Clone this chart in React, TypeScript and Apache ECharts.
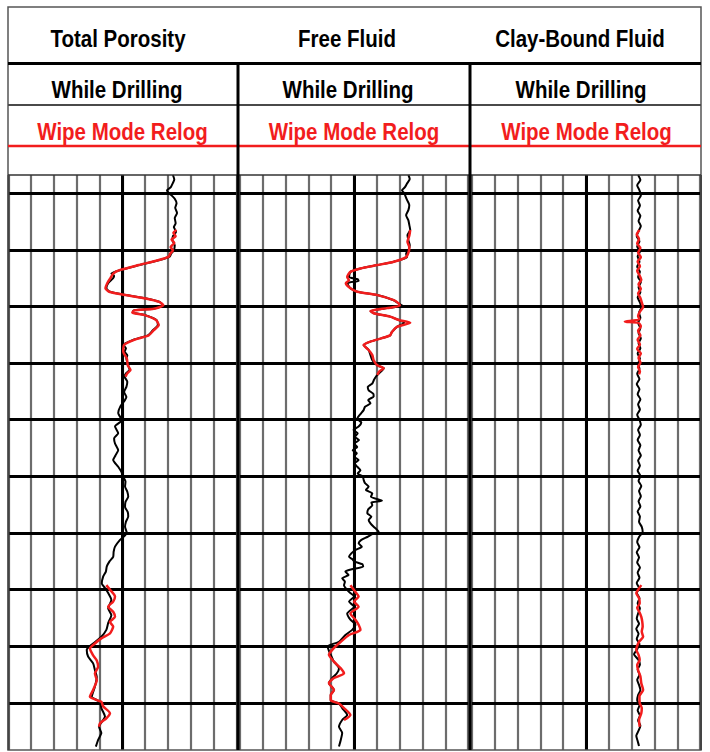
import React, { useEffect, useRef } from "react";
import * as echarts from "echarts";

// ---------- data (depth, porosity units; scale 50 p.u. left -> 0 p.u. right) ----------
const TRACK_TITLES = ["Total Porosity", "Free Fluid", "Clay-Bound Fluid"];
const RUN_DRILLING = "While Drilling";
const RUN_RELOG = "Wipe Mode Relog";

const DEPTH_MIN = 96.8;
const DEPTH_MAX = 198.3;
const DEPTH_LINES = [100, 110, 120, 130, 140, 150, 160, 170, 180, 190];
const PU_LEFT = 50;
const PU_RIGHT = 0;
const PU_STEP = 5;
const PU_CENTER = 25;

type P = [number, number]; // [depth, value]

const tpDrilling: P[] = [[96.8,13.9],[97.6,13.6],[98.2,13.9],[99.0,14.4],[99.5,15.2],[100.0,14.8],[100.4,14.2],[101.0,13.5],[101.8,13.1],[102.6,13.4],[103.5,13.0],[104.4,13.5],[105.3,13.3],[106.0,13.7],[106.8,13.2],[107.6,13.9],[108.3,14.0],[109.2,13.5],[110.1,13.7],[110.7,14.3],[111.2,14.6],[111.8,16.8],[112.7,21.2],[113.6,25.5],[114.2,27.4],[114.6,26.8],[115.0,27.0],[115.9,28.1],[116.8,28.5],[117.4,27.7],[118.0,24.1],[118.6,19.7],[119.2,16.8],[119.8,16.1],[120.4,18.3],[120.7,22.6],[121.1,22.6],[121.5,20.1],[122.4,17.5],[123.3,17.2],[124.2,18.3],[125.1,19.4],[125.9,22.6],[126.8,24.8],[127.4,24.2],[128.0,24.5],[128.6,23.9],[129.2,24.1],[130.4,23.7],[131.2,23.4],[131.8,24.2],[132.4,24.5],[133.3,23.9],[134.2,24.1],[135.1,24.6],[136.0,24.1],[136.5,24.4],[137.6,25.4],[138.8,25.9],[140.1,25.1],[141.2,26.6],[142.4,25.9],[143.3,26.8],[144.2,26.6],[145.4,25.9],[146.3,26.5],[147.1,27.0],[148.3,25.9],[149.2,25.2],[150.1,24.8],[150.9,24.3],[151.8,24.4],[152.7,23.9],[153.6,23.7],[154.5,24.3],[155.4,24.4],[156.3,23.8],[157.1,23.7],[158.0,24.2],[158.9,24.4],[160.0,24.0],[161.2,25.5],[162.4,26.6],[163.3,26.9],[164.2,27.0],[165.0,27.8],[165.9,28.4],[166.8,28.6],[167.7,29.2],[168.9,29.5],[169.7,28.8],[170.6,28.1],[171.8,27.4],[173.3,28.1],[174.5,27.4],[175.9,28.1],[177.1,28.5],[178.3,29.6],[179.5,31.4],[180.6,32.8],[181.8,32.5],[183.0,31.4],[184.2,31.0],[185.4,30.6],[187.1,31.0],[188.9,31.7],[189.8,29.9],[190.9,29.6],[192.4,28.8],[194.2,30.1],[195.3,29.6],[196.5,30.3],[197.7,30.8]];

const tpRelogUpper: P[] = [[106.5,13.1],[107.0,13.8],[107.6,13.3],[108.2,14.2],[108.8,13.6],[109.5,14.4],[110.1,13.9],[110.7,14.5],[111.2,14.8],[111.8,17.0],[112.7,21.4],[113.6,25.6],[114.2,27.0],[115.0,27.6],[115.9,28.3],[116.8,28.7],[117.4,27.9],[118.0,24.3],[118.6,19.9],[119.2,16.9],[119.8,16.0],[120.4,18.1],[120.7,22.4],[121.1,22.8],[121.5,20.3],[122.4,17.6],[123.3,17.0],[124.2,18.1],[125.1,19.2],[125.9,22.4],[126.8,24.6],[128.0,24.8],[129.2,24.0],[130.4,23.8],[131.2,23.2],[131.8,23.9],[132.4,24.3]];

const tpRelogLower: P[] = [[169.2,28.5],[170.0,27.7],[171.2,26.6],[172.1,27.0],[173.0,28.1],[173.9,27.0],[174.8,26.6],[175.7,27.7],[176.5,27.0],[177.7,27.7],[178.6,29.6],[179.5,31.0],[180.4,32.1],[181.6,31.4],[182.5,30.6],[183.6,30.3],[184.8,31.0],[186.0,30.6],[187.7,31.4],[188.9,32.1],[189.8,29.6],[190.6,29.2],[191.8,27.7],[192.7,28.5],[193.6,29.9],[194.2,30.1]];

const ffDrilling: P[] = [[96.8,13.1],[97.5,12.8],[98.3,13.4],[99.0,13.9],[99.5,14.5],[100.0,14.0],[100.4,13.8],[101.2,13.4],[102.1,12.9],[103.0,13.1],[103.9,13.6],[104.8,13.1],[105.6,12.9],[106.5,12.7],[107.4,13.3],[108.3,13.1],[109.2,12.8],[110.1,13.1],[110.7,13.6],[111.3,13.4],[112.1,16.3],[112.7,19.9],[113.3,23.6],[113.9,25.8],[114.8,26.1],[115.2,24.2],[115.5,24.0],[115.9,26.5],[116.8,25.8],[117.4,24.3],[118.0,19.9],[118.9,16.3],[119.5,15.2],[119.9,14.3],[120.3,17.8],[120.8,21.4],[121.2,20.7],[121.8,17.1],[122.4,15.2],[122.9,14.0],[123.6,15.6],[124.5,16.7],[125.1,17.1],[125.6,18.9],[126.2,21.4],[126.8,22.9],[127.7,21.8],[128.6,21.4],[129.5,21.0],[130.4,19.9],[130.9,18.5],[132.1,19.9],[132.9,20.6],[133.6,21.0],[134.2,22.0],[134.8,21.8],[135.4,20.8],[135.9,20.7],[136.5,21.9],[137.1,21.4],[137.7,22.6],[138.3,22.9],[139.0,23.6],[139.8,24.3],[140.5,23.4],[141.2,24.0],[141.8,25.1],[142.4,24.2],[143.0,24.8],[143.6,23.9],[144.2,25.0],[144.8,24.3],[145.4,25.3],[145.9,24.4],[146.5,25.0],[147.1,24.0],[147.7,24.9],[148.3,24.3],[148.9,23.6],[149.5,24.2],[150.0,23.1],[150.6,22.9],[151.2,22.6],[151.8,21.8],[152.4,22.4],[153.0,21.0],[153.6,21.3],[154.3,18.9],[154.6,21.2],[155.1,21.0],[155.8,21.9],[156.5,22.1],[157.1,21.2],[157.7,21.8],[158.3,21.4],[158.9,20.7],[159.4,20.0],[159.8,19.6],[160.2,21.0],[160.7,22.1],[161.2,23.4],[161.8,24.0],[162.4,23.3],[163.0,24.7],[163.6,25.6],[164.2,26.1],[164.6,25.4],[165.0,25.0],[165.5,23.2],[165.9,23.0],[166.4,25.5],[166.8,26.9],[167.4,26.2],[168.0,27.6],[168.6,27.0],[169.2,27.2],[170.4,26.1],[171.2,25.0],[172.1,26.1],[173.0,25.0],[174.2,26.5],[175.3,25.8],[176.2,24.7],[177.1,25.4],[178.0,26.9],[179.2,28.3],[180.0,30.8],[180.8,30.5],[181.5,30.1],[182.7,29.4],[183.9,28.3],[184.8,28.8],[185.6,29.8],[186.5,30.5],[187.7,29.4],[188.6,30.1],[189.5,30.1],[190.1,28.3],[190.9,27.6],[192.1,26.5],[193.0,27.6],[194.2,28.3],[195.3,27.6],[196.5,27.9],[197.7,28.3]];

const ffRelogUpper: P[] = [[106.5,12.7],[107.5,12.9],[108.6,13.3],[109.5,12.9],[110.3,13.0],[111.3,13.6],[112.1,16.3],[112.7,19.9],[113.3,23.6],[113.9,25.8],[114.8,26.5],[115.4,26.1],[115.9,26.8],[116.8,25.8],[117.4,24.3],[118.0,19.9],[118.9,16.3],[119.5,15.2],[119.9,15.0],[120.3,17.8],[120.8,21.4],[121.2,20.7],[121.8,17.1],[122.4,15.2],[122.9,12.7],[123.6,15.6],[124.5,16.7],[125.1,17.1],[125.6,18.9],[126.2,21.4],[126.8,22.9],[127.7,21.8],[128.6,21.0],[129.5,20.7],[130.4,19.9],[130.9,18.5],[131.5,19.5],[132.1,19.9]];

const ffRelogLower: P[] = [[169.2,25.8],[170.4,24.7],[171.2,24.0],[172.1,25.0],[173.0,24.0],[174.2,25.8],[175.3,24.7],[176.2,24.0],[177.1,23.6],[178.0,26.1],[179.2,27.9],[180.3,29.4],[181.5,30.5],[182.7,29.4],[183.9,27.9],[184.8,27.2],[185.6,29.4],[186.5,30.5],[187.7,29.4],[188.6,30.1],[189.5,30.1],[190.1,28.3],[190.9,27.2],[192.1,25.8],[193.0,27.2]];

const cbDrilling: P[] = [[96.8,13.6],[97.7,13.1],[98.6,13.8],[99.5,13.3],[100.4,13.0],[101.3,13.6],[102.2,13.2],[103.1,13.7],[104.0,13.1],[104.9,13.5],[105.8,13.0],[106.7,13.5],[107.6,13.9],[108.5,13.3],[109.4,13.8],[110.3,13.2],[111.2,13.7],[112.1,13.3],[113.0,13.8],[113.9,13.2],[114.8,13.6],[115.7,13.0],[116.6,13.5],[117.5,13.1],[118.4,13.7],[119.3,13.2],[120.2,12.9],[121.1,13.4],[122.0,13.1],[122.9,13.6],[123.8,13.1],[124.7,13.5],[125.6,13.0],[126.5,13.5],[127.4,13.1],[128.3,13.7],[129.2,13.2],[130.1,13.6],[131.0,13.3],[131.9,13.8],[132.8,13.3],[133.7,13.9],[134.6,13.3],[135.5,13.7],[136.4,13.1],[137.3,13.6],[138.2,13.2],[139.1,13.8],[140.0,13.3],[140.9,13.0],[141.8,13.6],[142.7,13.2],[143.6,13.7],[144.5,13.1],[145.4,13.5],[146.3,13.0],[147.2,13.6],[148.1,13.2],[149.0,13.7],[149.9,13.1],[150.8,13.5],[151.7,12.9],[152.6,13.4],[153.5,13.0],[154.4,13.5],[155.3,13.1],[156.2,13.7],[157.1,13.2],[158.0,13.4],[158.9,12.8],[159.8,12.6],[160.7,13.4],[161.6,13.8],[162.5,13.3],[163.4,13.9],[164.3,13.4],[165.2,13.8],[166.1,13.2],[167.0,13.7],[167.9,13.3],[168.8,13.9],[169.7,13.4],[170.6,13.9],[171.5,13.3],[172.4,13.7],[173.3,13.2],[174.2,13.6],[175.1,13.9],[176.0,13.4],[176.9,14.0],[177.8,13.5],[178.7,13.9],[179.6,13.3],[180.5,13.8],[181.4,14.5],[182.3,13.6],[183.2,13.2],[184.1,13.7],[185.0,13.3],[185.9,13.8],[186.8,13.4],[187.7,13.1],[188.6,13.6],[189.5,13.8],[190.4,13.3],[191.3,13.7],[192.2,13.2],[193.1,13.6],[194.0,13.1],[194.9,13.5],[195.8,14.0],[196.7,13.7],[197.6,13.4]];

const cbRelogUpper: P[] = [[106.5,13.3],[107.3,13.9],[108.1,13.4],[108.9,13.8],[109.7,13.1],[110.5,13.6],[111.3,13.0],[112.1,13.7],[112.9,13.2],[113.7,13.8],[114.5,13.3],[115.3,12.9],[116.1,13.5],[116.9,13.0],[117.7,13.6],[118.5,13.1],[119.3,12.8],[120.1,12.5],[120.9,13.2],[121.7,13.6],[122.3,13.3],[122.7,16.5],[122.9,13.5],[123.5,13.0],[124.3,13.6],[125.1,13.1],[125.9,13.7],[126.7,13.2],[127.5,13.8],[128.3,13.0],[129.1,13.5],[129.9,13.1],[130.7,13.6],[131.5,13.2],[132.0,13.4]];

const cbRelogLower: P[] = [[169.2,12.9],[169.9,13.5],[170.6,14.0],[171.5,13.4],[172.4,13.25],[173.2,13.8],[174.0,13.3],[174.8,12.9],[175.6,12.7],[176.5,12.6],[177.4,12.8],[178.3,12.5],[179.0,13.2],[179.5,13.6],[180.6,14.0],[181.5,13.5],[182.4,13.25],[183.3,13.8],[184.2,13.6],[185.3,13.1],[186.5,12.9],[187.7,12.5],[188.8,13.3],[190.0,13.25],[190.9,12.8],[191.8,12.9],[193.0,13.4],[194.2,13.25]];

const TRACK_DATA = [
  { drilling: tpDrilling, relog: [tpRelogUpper, tpRelogLower] },
  { drilling: ffDrilling, relog: [ffRelogUpper, ffRelogLower] },
  { drilling: cbDrilling, relog: [cbRelogUpper, cbRelogLower] },
];

// ---------- layout ----------
const W = 710;
const H = 752;
const TRACK_LEFT = [8.3, 239.9, 471.9];
const TRACK_WIDTH = [228, 228.3, 228.3];
const TITLE_X = [118, 347, 580];
const DRILL_X = [117, 348, 581];
const RELOG_X = [122.5, 354, 586.5];
const GRID_TOP = 175;
const GRID_BOTTOM = 750;
const FRAME = { l: 8, t: 7, r: 701, b: 750 };
const SEP_X = [238, 470];
const RED = "#f21d1d";
const FONT = 'bold 20.5px "Liberation Sans", Arial, Helvetica, sans-serif';
const TEXT_SCALE_Y = 1.15;

function buildOption(): echarts.EChartsOption {
  const grids = TRACK_LEFT.map((l, i) => ({
    left: l,
    top: GRID_TOP,
    width: TRACK_WIDTH[i],
    height: GRID_BOTTOM - GRID_TOP,
    show: false,
  }));
  const xAxes = TRACK_LEFT.map((_, i) => ({
    type: "value" as const,
    gridIndex: i,
    min: PU_RIGHT,
    max: PU_LEFT,
    interval: PU_STEP,
    inverse: true,
    axisLine: { show: false },
    axisTick: { show: false },
    axisLabel: { show: false },
    splitLine: { show: true, lineStyle: { color: "#6c6c6c", width: 2.2 } },
  }));
  const yAxes = TRACK_LEFT.map((_, i) => ({
    type: "value" as const,
    gridIndex: i,
    min: DEPTH_MIN,
    max: DEPTH_MAX,
    inverse: true,
    axisLine: { show: false },
    axisTick: { show: false },
    axisLabel: { show: false },
    splitLine: { show: false },
  }));

  const series: any[] = [];
  TRACK_DATA.forEach((t, i) => {
    series.push({
      name: TRACK_TITLES[i] + " - " + RUN_DRILLING,
      type: "line",
      xAxisIndex: i,
      yAxisIndex: i,
      data: t.drilling.map(([d, v]) => [v, d]),
      showSymbol: false,
      symbol: "none",
      smooth: 0.2,
      z: 3,
      lineStyle: { color: "#000", width: 2 },
      markLine: {
        silent: true,
        symbol: ["none", "none"],
        z: 1,
        label: { show: false },
        lineStyle: { color: "#000", width: 3, type: "solid" },
        data: [
          ...DEPTH_LINES.map((d) => ({ yAxis: d })),
          { xAxis: PU_CENTER },
        ],
      },
    });
    t.relog.forEach((seg, k) => {
      series.push({
        name: TRACK_TITLES[i] + " - " + RUN_RELOG + " " + (k + 1),
        type: "line",
        xAxisIndex: i,
        yAxisIndex: i,
        data: seg.map(([d, v]) => [v, d]),
        showSymbol: false,
        symbol: "none",
        smooth: 0.2,
        z: 4,
        lineStyle: { color: RED, width: 2.5 },
      });
    });
  });

  const graphic: any[] = [];
  const line = (x1: number, y1: number, x2: number, y2: number, stroke: string, lw: number) => ({
    type: "line",
    silent: true,
    z: 10,
    shape: { x1, y1, x2, y2 },
    style: { stroke, lineWidth: lw },
  });
  graphic.push({
    type: "rect",
    silent: true,
    z: 10,
    shape: { x: FRAME.l, y: FRAME.t, width: FRAME.r - FRAME.l, height: FRAME.b - FRAME.t },
    style: { fill: "none", stroke: "#555", lineWidth: 1.5 },
  });
  graphic.push(line(FRAME.l, 63.5, FRAME.r, 63.5, "#000", 3));
  graphic.push(line(FRAME.l, 105, FRAME.r, 105, "#4a4a4a", 2));
  graphic.push(line(FRAME.l, 146, FRAME.r, 146, RED, 2.5));
  graphic.push(line(FRAME.l, GRID_TOP, FRAME.r, GRID_TOP, "#333", 1.5));
  SEP_X.forEach((x) => graphic.push(line(x, 63.5, x, FRAME.b, "#000", 3)));
  graphic.push(line(FRAME.l + 0.5, GRID_TOP, FRAME.l + 0.5, FRAME.b, "#444", 2));
  graphic.push(line(FRAME.r, GRID_TOP, FRAME.r, FRAME.b, "#444", 2));

  const text = (x: number, y: number, s: string, fill: string) => ({
    type: "text",
    silent: true,
    z: 11,
    x,
    y,
    scaleY: TEXT_SCALE_Y,
    style: { text: s, x: 0, y: 0, textAlign: "center", textVerticalAlign: "middle", font: FONT, fill },
  });
  TRACK_TITLES.forEach((s, i) => {
    graphic.push(text(TITLE_X[i], 38.5, s, "#000"));
    graphic.push(text(DRILL_X[i], 89.5, RUN_DRILLING, "#000"));
    graphic.push(text(RELOG_X[i], 132, RUN_RELOG, RED));
  });

  return {
    animation: false,
    backgroundColor: "#fff",
    grid: grids,
    xAxis: xAxes,
    yAxis: yAxes,
    series,
    graphic,
  };
}

export default function App() {
  const ref = useRef<HTMLDivElement>(null);
  useEffect(() => {
    if (!ref.current) return;
    const chart = echarts.init(ref.current, undefined, { renderer: "svg" });
    chart.setOption(buildOption());
    return () => chart.dispose();
  }, []);
  return (
    <div
      ref={ref}
      style={{ position: "absolute", left: 0, top: 0, width: W, height: H, background: "#fff" }}
    />
  );
}
